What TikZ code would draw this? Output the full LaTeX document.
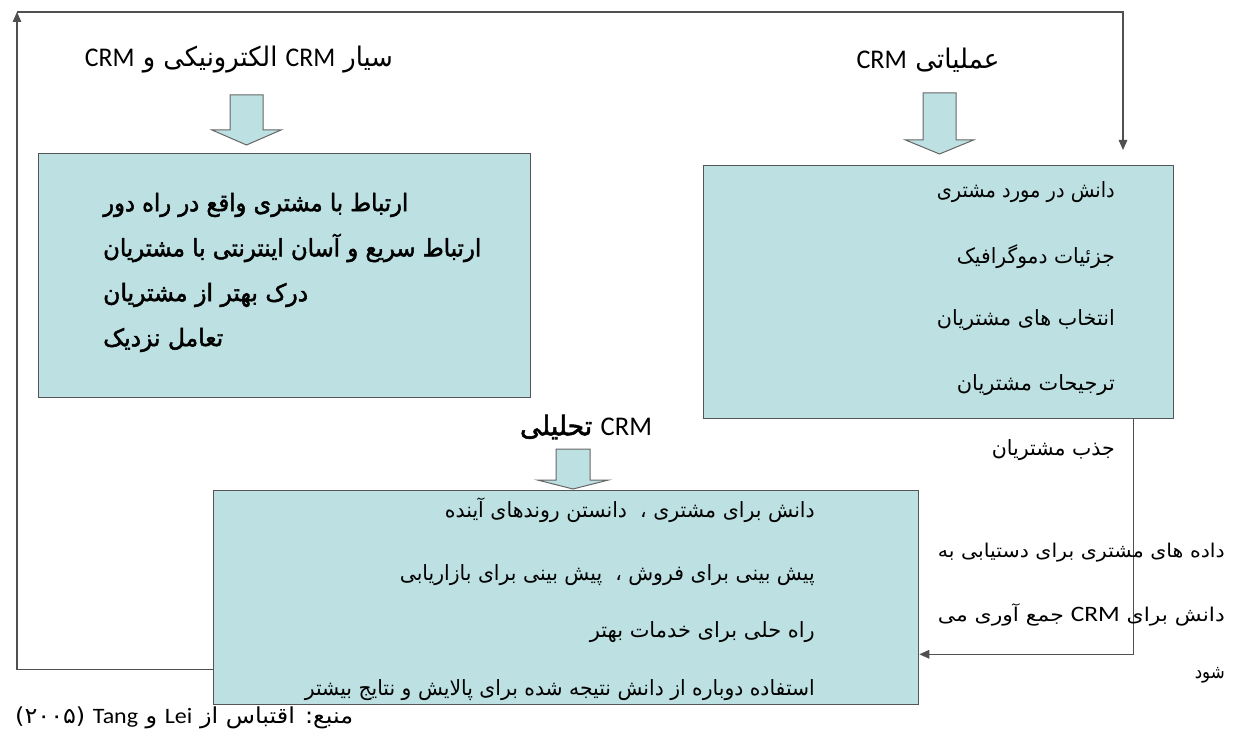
\documentclass[tikz,border=0pt]{standalone}
\usepackage{fontspec}
\usepackage{graphicx}
\usetikzlibrary{arrows.meta}
\TeXXeTstate=1
\newfontfamily\fa[Script=Arabic]{DejaVu Sans}
\newfontfamily\fab[Script=Arabic,FakeBold=2]{DejaVu Sans}
\newfontfamily\lat{Carlito}
\newcommand\fw[2]{\resizebox{#1}{\height}{#2}}
\newcommand\lt[1]{\beginL{\lat #1}\endL}
\newcommand\harrow[7]{\draw[hollow] ({#1-#5},#2) coordinate (#7) -- ({#1+#5},#2) -- ({#1+#5},#4) -- ({#1+#6},#4) -- (#1,#3) -- ({#1-#6},#4) -- ({#1-#5},#4) -- cycle;}
\definecolor{tealc}{HTML}{BDE1E2}
\definecolor{boxc}{HTML}{555555}
\definecolor{linec}{HTML}{505050}
\definecolor{arrc}{HTML}{666666}
\begin{document}
\begin{tikzpicture}[x=1pt,y=-1pt,
  box/.style={draw=boxc, fill=tealc, line width=1.3pt, inner sep=0pt, anchor=north west},
  conn/.style={draw=linec, line width=1.4pt},
  tip/.style={-{Triangle[length=10pt,width=8.5pt]}},
  hollow/.style={draw=arrc, fill=tealc, line width=1pt, line join=miter},
  txt/.style={inner sep=0pt, text=black},
  ttl/.style={txt, font=\fa\fontsize{27}{30}\selectfont},
  lbt/.style={txt, anchor=west, font=\fab\fontsize{24}{28}\selectfont},
  rbt/.style={txt, anchor=east, font=\fa\fontsize{21}{25}\selectfont},
  mbt/.style={txt, anchor=east, font=\fa\fontsize{21}{25}\selectfont},
  sdt/.style={txt, font=\fa\fontsize{19}{23}\selectfont}]
\useasboundingbox (0,0) rectangle (1233,738);
\fill[white] (0,0) rectangle (1233,738);

% boxes
\node[box, minimum width=492pt, minimum height=244pt] (lbox) at (38,153) {};
\node[box, minimum width=470pt, minimum height=253pt] (rbox) at (703,165) {};
\node[box, minimum width=705pt, minimum height=214pt] (mbox) at (213,490) {};

% hollow arrows
\harrow{246.5}{95}{145}{130}{16.5}{34.5}{la}
\harrow{939.5}{93}{154}{140}{16.5}{34}{ra}
\harrow{573}{449}{489}{480}{17}{35.5}{ma}

% connectors
\coordinate (tl) at (17,12);
\coordinate (tr) at (1123,12);
\coordinate (rt) at (1123,150);
\coordinate (mo) at ([yshift=36pt]mbox.south west);
\draw[conn,tip] (mo) -- (mo -| tl) -- (tl);
\draw[conn,tip] (tl) -- (tr) -- (rt);
\draw[conn,tip] ([xshift=-41pt]rbox.south east) |- ([yshift=51pt]mbox.south east);

% titles
\node[ttl] (lt) at (239,60) {\fw{308pt}{\beginR سیار \lt{CRM} الکترونیکی و \lt{CRM}\endR}};
\node[ttl] (rtt) at (928,60) {\fw{143pt}{\beginR عملیاتی \lt{CRM}\endR}};
\node[ttl] (mt) at (586,427) {\fw{132pt}{\beginR\lt{CRM} {\fab تحلیلی}\endR}};

% left box text
\node[lbt] (l1) at (103,205) {\fw{305pt}{\beginR ارتباط با مشتری واقع در راه دور\endR}};
\node[lbt] (l2) at (103,248) {\fw{378pt}{\beginR ارتباط سریع و آسان اینترنتی با مشتریان\endR}};
\node[lbt] (l3) at (103,295) {\fw{205pt}{\beginR درک بهتر از مشتریان\endR}};
\node[lbt] (l4) at (103,340) {\fw{120pt}{\beginR تعامل نزدیک\endR}};

% right box text
\node[rbt] (r1) at (1115,192) {\fw{178pt}{\beginR دانش در مورد مشتری\endR}};
\node[rbt] (r2) at (1115,257) {\fw{158pt}{\beginR جزئیات دموگرافیک\endR}};
\node[rbt] (r3) at (1115,320) {\fw{178pt}{\beginR انتخاب های مشتریان\endR}};
\node[rbt] (r4) at (1115,385) {\fw{158pt}{\beginR ترجیحات مشتریان\endR}};
\node[rbt] (r5) at (1115,450) {\fw{123pt}{\beginR جذب مشتریان\endR}};

% middle box text
\node[mbt] (m1) at (815,510) {\fw{370pt}{\beginR دانش برای مشتری ،~~دانستن روندهای آینده\endR}};
\node[mbt] (m2) at (815,575) {\fw{415pt}{\beginR پیش بینی برای فروش ،~~پیش بینی برای بازاریابی\endR}};
\node[mbt] (m3) at (815,632) {\fw{225pt}{\beginR راه حلی برای خدمات بهتر\endR}};
\node[mbt] (m4) at (815,690) {\fw{510pt}{\beginR استفاده دوباره از دانش نتیجه شده برای پالایش و نتایج بیشتر\endR}};

% side text
\node[sdt, anchor=east] (s1) at (1225,553) {\fw{287pt}{\beginR داده های مشتری برای دستیابی به\endR}};
\node[sdt, anchor=east] (s2) at (1225,615) {\fw{287pt}{\beginR دانش برای \lt{\fontsize{22}{25}\selectfont CRM} جمع آوری می\endR}};
\node[sdt, anchor=east] (s3) at (1225,675) {\fw{30pt}{\beginR شود\endR}};

% source
\node[txt, anchor=west, font=\fa\fontsize{22}{25}\selectfont] (src) at (15,718) {\fw{338pt}{\beginR منبع: اقتباس از \lt{Lei} و \lt{Tang} \beginL(۲۰۰۵)\endL\endR}};
\end{tikzpicture}
\end{document}
